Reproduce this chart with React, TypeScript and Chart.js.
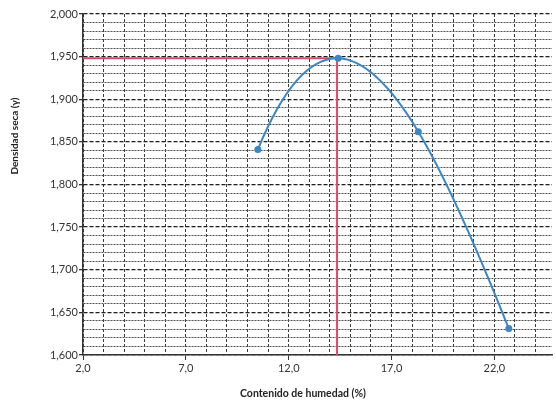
import React, { useEffect, useRef } from "react";
import { Chart, registerables } from "chart.js";

Chart.register(...registerables);

// Data
const moisture = [10.5, 14.4, 18.3, 22.7];
const dryDensity = [1.841, 1.948, 1.862, 1.631];
const optimumMoisture = 14.35;
const maxDryDensity = 1.948;

// Axis ranges / ticks
const xMin = 2;
const xMax = 24.8;
const xStep = 1;
const xLabelEvery = 5;
const yMin = 1.6;
const yMax = 2.0;
const yStep = 0.01;
const yLabelEvery = 5;

const xTitle = "Contenido de humedad (%)";
const yTitle = "Densidad seca (γ)";

const FONT = 'Lato, "Open Sans", sans-serif';

const isMajorX = (v: number) => Math.abs(((v - xMin) / xStep) % xLabelEvery) < 1e-6;
const isMajorY = (v: number) => Math.round((v - yMin) / yStep) % yLabelEvery === 0;

// Slope of the polynomial trend line (order 3) through the data points
function trendSlope(xs: number[], ys: number[], x: number): number {
  let s = 0;
  const n = xs.length;
  for (let j = 0; j < n; j++) {
    let dj = 0;
    for (let k = 0; k < n; k++) {
      if (k === j) continue;
      let term = 1 / (xs[j] - xs[k]);
      for (let m = 0; m < n; m++) {
        if (m === j || m === k) continue;
        term *= (x - xs[m]) / (xs[j] - xs[m]);
      }
      dj += term;
    }
    s += ys[j] * dj;
  }
  return s;
}

// Shapes the curve of dataset 0 like the reference's polynomial trend line
const trendPlugin = {
  id: "polyTrend",
  beforeDatasetDraw(chart: any, args: any) {
    if (args.index !== 0) return;
    const meta = args.meta;
    const line = meta.dataset;
    const pts = meta.data;
    const sx = chart.scales.x;
    const sy = chart.scales.y;
    if (line && typeof line.updateControlPoints === "function") {
      line.updateControlPoints(chart.chartArea, "x");
    }
    for (let i = 0; i < pts.length; i++) {
      const x = moisture[i];
      const y = dryDensity[i];
      const m = trendSlope(moisture, dryDensity, x);
      if (i > 0) {
        const h = (x - moisture[i - 1]) / 3;
        pts[i].cp1x = sx.getPixelForValue(x - h);
        pts[i].cp1y = sy.getPixelForValue(y - m * h);
      }
      if (i < pts.length - 1) {
        const h = (moisture[i + 1] - x) / 3;
        pts[i].cp2x = sx.getPixelForValue(x + h);
        pts[i].cp2y = sy.getPixelForValue(y + m * h);
      }
    }
  },
};

// Axis titles, placed as in the reference
const titlesPlugin = {
  id: "axisTitles",
  afterDraw(chart: any) {
    const { ctx, chartArea } = chart;
    ctx.save();
    ctx.fillStyle = "#222";
    ctx.textAlign = "center";
    ctx.textBaseline = "middle";
    ctx.font = `bold 10.5px ${FONT}`;
    ctx.fillText(xTitle, chartArea.left + chartArea.width * 0.469, chart.height - 9);
    ctx.translate(15, chartArea.top + chartArea.height * 0.358);
    ctx.rotate(-Math.PI / 2);
    ctx.font = `bold 10px ${FONT}`;
    ctx.fillText(yTitle, 0, 0);
    ctx.restore();
  },
};

export default function App() {
  const ref = useRef<HTMLCanvasElement | null>(null);

  useEffect(() => {
    if (!ref.current) return;
    const chart = new Chart(ref.current, {
      type: "scatter",
      data: {
        datasets: [
          {
            data: moisture.map((x, i) => ({ x, y: dryDensity[i] })),
            showLine: true,
            tension: 0.4,
            borderColor: "#3a86c6",
            backgroundColor: "#3a86c6",
            borderWidth: 2,
            pointRadius: 3.5,
            pointBorderWidth: 0,
            order: 0,
          },
          {
            data: [
              { x: xMin, y: maxDryDensity },
              { x: optimumMoisture, y: maxDryDensity },
              { x: optimumMoisture, y: yMin },
            ],
            showLine: true,
            tension: 0,
            borderColor: "#e2486c",
            borderWidth: 2,
            pointRadius: 0,
            order: 1,
          },
        ],
      },
      options: {
        animation: false,
        responsive: false,
        layout: { padding: { top: 14, left: 0, right: 0, bottom: 0 } },
        plugins: { legend: { display: false }, tooltip: { enabled: false } },
        scales: {
          x: {
            type: "linear",
            min: xMin,
            max: xMax,
            afterFit: (s: any) => {
              s.height = 48;
            },
            ticks: {
              stepSize: xStep,
              autoSkip: false,
              includeBounds: false,
              maxRotation: 0,
              padding: 2,
              color: "#333",
              font: { family: FONT, size: 11 },
              callback: (v: any) => (isMajorX(Number(v)) ? Number(v).toFixed(1).replace(".", ",") : ""),
            },
            grid: {
              color: "#3a3a3a",
              lineWidth: 1,
              tickLength: 5,
              tickColor: (c: any) => (c.tick && isMajorX(c.tick.value) ? "#333" : "rgba(0,0,0,0)"),
            },
            border: {
              color: "#333",
              width: 1.5,
              dash: (c: any) => (c.tick ? [3, 2] : []),
            },
          },
          y: {
            type: "linear",
            min: yMin,
            max: yMax,
            afterFit: (s: any) => {
              s.width = 83;
            },
            ticks: {
              stepSize: yStep,
              autoSkip: false,
              padding: 1,
              color: "#333",
              font: { family: FONT, size: 11 },
              callback: (v: any) => (isMajorY(Number(v)) ? Number(v).toFixed(3).replace(".", ",") : ""),
            },
            grid: {
              color: (c: any) => (c.tick && isMajorY(c.tick.value) ? "#1e1e1e" : "#505050"),
              lineWidth: (c: any) => (c.tick && isMajorY(c.tick.value) ? 1.3 : 1),
              tickLength: 4,
              tickColor: (c: any) => (c.tick && isMajorY(c.tick.value) ? "#333" : "rgba(0,0,0,0)"),
            },
            border: {
              color: "#333",
              width: 1.5,
              dash: (c: any) => (c.tick ? (isMajorY(c.tick.value) ? [4, 2] : [2, 1]) : []),
            },
          },
        },
      },
      plugins: [trendPlugin, titlesPlugin],
    });
    return () => chart.destroy();
  }, []);

  return (
    <div style={{ position: "absolute", left: 0, top: 0, width: 556, height: 403, background: "#fff" }}>
      <canvas ref={ref} width={556} height={403} />
    </div>
  );
}
